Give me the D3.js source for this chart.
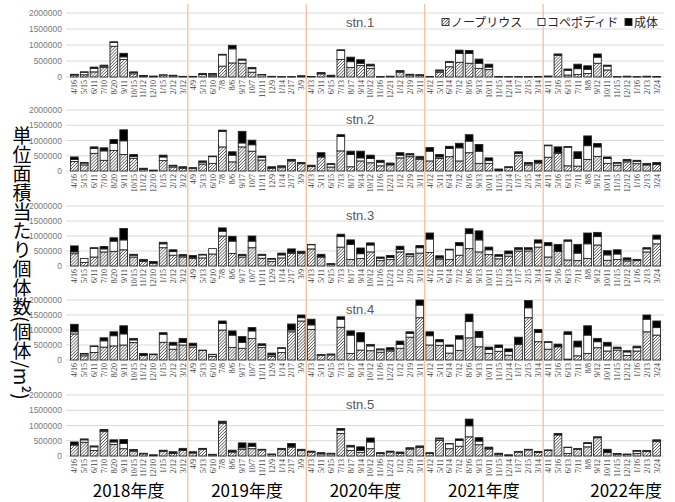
<!DOCTYPE html>
<html>
<head>
<meta charset="utf-8">
<script src="https://d3js.org/d3.v7.min.js"></script>
<style>
body { margin:0; background:#fff; }
text { font-family: "Noto Sans CJK JP", "Noto Sans", sans-serif; }
</style>
</head>
<body>
<svg id="chart" width="675" height="502"></svg>
<script>
// sampling dates (same for every station)
var dates = ["4/16","5/15","6/11","7/10","8/20","9/11","10/15","11/12","12/10","1/15","2/12","3/12",
  "4/9","5/13","6/10","7/8","8/6","9/17","10/7","11/11","12/9","1/14","2/17","3/9",
  "4/13","5/11","6/15","7/13","8/17","9/14","10/12","11/16","12/21","1/12","2/19","3/11",
  "4/12","5/11","6/14","7/12","8/16","9/13","10/11","11/15","12/14","1/17","2/15","3/14",
  "4/11","5/16","6/13","7/11","8/8","9/12","10/11","11/15","12/12","1/16","2/13","3/24"];
var years = ["2018年度","2019年度","2020年度","2021年度","2022年度"];
var stations = ["stn.1","stn.2","stn.3","stn.4","stn.5"];
var seriesNames = ["ノープリウス","コペポディド","成体"];
var yTicks = [0, 500000, 1000000, 1500000, 2000000];

// ノープリウス / コペポディド / 成体 per station
var stn1_N = [60000,70000,160000,300000,960000,550000,100000,30000,10000,60000,40000,10000,
  10000,80000,40000,340000,440000,430000,150000,70000,10000,5000,5000,10000,
  10000,100000,15000,550000,300000,360000,270000,5000,10000,150000,60000,50000,
  10000,150000,320000,460000,430000,270000,230000,5000,5000,5000,5000,5000,
  20000,680000,60000,80000,110000,430000,220000,5000,10000,5000,10000,5000];
var stn1_C = [15000,80000,110000,40000,120000,80000,40000,0,5000,10000,0,5000,
  5000,10000,50000,350000,440000,100000,110000,0,0,0,0,0,
  0,10000,0,280000,180000,70000,80000,0,0,20000,15000,10000,
  0,40000,140000,280000,310000,160000,80000,0,0,0,0,0,
  0,0,150000,180000,130000,190000,120000,0,0,0,0,0];
var stn1_A = [10000,10000,40000,30000,20000,110000,20000,20000,15000,0,15000,5000,
  5000,20000,20000,20000,110000,30000,40000,10000,10000,5000,5000,30000,
  5000,30000,40000,20000,140000,110000,50000,10000,15000,30000,10000,10000,
  5000,30000,20000,100000,90000,130000,90000,10000,5000,5000,5000,10000,
  10000,40000,40000,140000,110000,100000,30000,5000,15000,5000,15000,10000];

var stn2_N = [310000,200000,580000,350000,670000,540000,410000,50000,10000,340000,130000,90000,
  90000,230000,250000,790000,300000,790000,650000,360000,90000,110000,330000,240000,
  150000,460000,130000,660000,140000,330000,270000,170000,200000,430000,470000,380000,
  330000,410000,470000,330000,600000,250000,250000,30000,120000,500000,200000,260000,
  450000,580000,170000,160000,380000,480000,250000,190000,300000,240000,200000,210000];
var stn2_C = [70000,60000,160000,310000,230000,450000,60000,20000,0,120000,40000,20000,
  0,60000,220000,510000,220000,130000,210000,80000,10000,40000,20000,0,
  0,10000,90000,470000,400000,100000,140000,120000,20000,90000,60000,40000,
  320000,50000,270000,430000,380000,400000,90000,0,0,70000,40000,20000,
  380000,30000,610000,250000,450000,310000,160000,70000,40000,80000,0,20000];
var stn2_A = [80000,20000,50000,100000,130000,360000,70000,20000,20000,60000,20000,30000,
  20000,40000,20000,40000,110000,380000,150000,50000,40000,20000,30000,40000,
  40000,130000,20000,60000,110000,220000,110000,60000,40000,80000,40000,50000,
  120000,80000,70000,150000,210000,220000,90000,35000,20000,60000,40000,70000,
  20000,180000,20000,220000,320000,110000,50000,20000,40000,30000,50000,50000];

var stn3_N = [410000,120000,300000,470000,490000,540000,300000,150000,90000,610000,360000,300000,
  250000,270000,400000,1000000,420000,300000,610000,260000,150000,270000,420000,420000,
  570000,300000,60000,630000,220000,250000,470000,180000,220000,470000,330000,430000,
  450000,230000,220000,360000,580000,470000,380000,240000,330000,500000,500000,630000,
  300000,490000,200000,180000,250000,700000,190000,220000,170000,180000,470000,740000];
var stn3_C = [60000,130000,290000,100000,340000,330000,60000,30000,10000,130000,120000,40000,
  40000,100000,180000,160000,410000,50000,220000,100000,80000,100000,30000,20000,
  140000,10000,0,350000,500000,160000,230000,80000,70000,80000,60000,180000,
  450000,40000,320000,320000,500000,400000,160000,90000,80000,60000,60000,140000,
  380000,0,630000,250000,490000,280000,180000,180000,40000,20000,100000,160000];
var stn3_A = [200000,0,20000,80000,110000,380000,30000,40000,50000,50000,60000,40000,
  60000,20000,0,110000,160000,40000,170000,30000,20000,60000,120000,50000,
  10000,80000,20000,80000,150000,190000,70000,40000,60000,110000,20000,70000,
  200000,70000,20000,100000,160000,300000,90000,50000,90000,50000,50000,100000,
  100000,230000,40000,290000,360000,140000,140000,140000,60000,20000,40000,130000];

var stn4_N = [870000,140000,250000,430000,470000,500000,580000,150000,180000,590000,360000,500000,
  430000,320000,120000,1000000,420000,390000,720000,420000,120000,250000,940000,1300000,
  1020000,160000,170000,1090000,220000,330000,310000,260000,300000,390000,760000,1410000,
  500000,490000,230000,320000,740000,440000,220000,290000,160000,520000,1410000,610000,
  360000,440000,30000,140000,220000,410000,300000,330000,150000,300000,940000,830000];
var stn4_C = [70000,60000,200000,210000,340000,370000,90000,0,0,270000,140000,90000,
  50000,0,60000,220000,410000,200000,250000,70000,50000,140000,60000,110000,
  150000,10000,0,270000,610000,280000,160000,80000,40000,130000,130000,420000,
  310000,120000,230000,380000,540000,320000,130000,130000,120000,10000,330000,310000,
  230000,10000,830000,300000,610000,200000,170000,60000,120000,110000,420000,250000];
var stn4_A = [250000,20000,20000,100000,130000,270000,50000,70000,20000,50000,90000,130000,
  80000,10000,10000,80000,140000,190000,110000,50000,60000,20000,200000,90000,
  190000,10000,30000,80000,140000,300000,50000,30000,70000,110000,50000,170000,
  130000,70000,40000,110000,250000,190000,80000,80000,90000,230000,240000,100000,
  20000,80000,80000,190000,310000,110000,120000,40000,40000,50000,140000,220000];

var stn5_N = [360000,450000,180000,800000,380000,240000,160000,70000,20000,150000,80000,190000,
  100000,220000,40000,1070000,130000,220000,240000,200000,55000,220000,290000,180000,
  130000,70000,70000,740000,180000,120000,240000,80000,130000,90000,230000,280000,
  80000,510000,240000,320000,630000,370000,230000,60000,20000,130000,200000,120000,
  180000,690000,80000,220000,300000,600000,120000,60000,50000,80000,150000,480000];
var stn5_C = [10000,80000,120000,40000,80000,170000,30000,0,0,20000,20000,0,
  0,10000,0,30000,20000,50000,80000,0,0,0,10000,0,
  0,0,0,110000,120000,60000,220000,10000,0,0,20000,20000,
  0,50000,160000,190000,360000,120000,20000,0,0,0,0,0,
  0,0,200000,10000,110000,10000,0,10000,0,80000,10000,20000];
var stn5_A = [90000,30000,30000,30000,70000,130000,20000,20000,20000,20000,40000,60000,
  40000,20000,15000,40000,40000,160000,100000,20000,10000,30000,110000,40000,
  30000,40000,20000,50000,50000,120000,130000,20000,30000,40000,20000,30000,
  30000,30000,10000,50000,220000,110000,40000,30000,20000,20000,20000,30000,
  20000,50000,10000,10000,30000,20000,100000,10000,15000,20000,20000,30000];

var stationData = [
  [stn1_N, stn1_C, stn1_A],
  [stn2_N, stn2_C, stn2_A],
  [stn3_N, stn3_C, stn3_A],
  [stn4_N, stn4_C, stn4_A],
  [stn5_N, stn5_C, stn5_A]
];

var svg = d3.select("#chart");

// hatch pattern for nauplius
var defs = svg.append("defs");
defs.append("pattern")
  .attr("id", "hatch")
  .attr("patternUnits", "userSpaceOnUse")
  .attr("width", 2.2).attr("height", 2.2)
  .attr("patternTransform", "rotate(45)")
  .call(function(p) {
    p.append("rect").attr("width", 2.2).attr("height", 2.2).attr("fill", "#fff");
    p.append("line").attr("x1", 0).attr("y1", 0).attr("x2", 0).attr("y2", 2.2)
      .attr("stroke", "#333").attr("stroke-width", 1.2);
  });

var fills = ["url(#hatch)", "#ffffff", "#000000"];

var x = d3.scaleBand()
  .domain(d3.range(dates.length))
  .range([69.5, 661.5])
  .paddingInner(0.22)
  .paddingOuter(0.1);

// panel layout (top = 2000000 line, bottom = 0 line)
var panelTop = [13, 110, 206, 300, 395];
var panelBottom = [77, 171, 266, 360, 456];

stationData.forEach(function(series, p) {
  var y = d3.scaleLinear().domain([0, 2000000]).range([panelBottom[p], panelTop[p]]);
  var g = svg.append("g");

  // grid lines
  g.selectAll("line.grid").data(yTicks).join("line")
    .attr("x1", 66).attr("x2", 664)
    .attr("y1", function(d) { return y(d); }).attr("y2", function(d) { return y(d); })
    .attr("stroke", "#d9d9d9").attr("stroke-width", 1);

  // y axis labels
  var ax = g.append("g")
    .attr("transform", "translate(64,0)")
    .call(d3.axisLeft(y).tickValues(yTicks).tickSize(0).tickPadding(2).tickFormat(d3.format("d")));
  ax.select(".domain").remove();
  ax.selectAll("text").attr("fill", "#7a7a7a").style("font-size", "8.5px")
    .style("font-family", "'Liberation Sans', Arial, sans-serif");

  // station title
  g.append("text")
    .attr("x", 346).attr("y", panelTop[p] + 14)
    .attr("fill", "#595959").style("font-size", "13px")
    .style("font-family", "'Liberation Sans', Arial, sans-serif")
    .text(stations[p]);

  // stacked bars
  var rows = dates.map(function(d, i) {
    return { i: i, N: series[0][i], C: series[1][i], A: series[2][i] };
  });
  var stacked = d3.stack().keys(["N", "C", "A"])(rows);

  g.selectAll("g.layer").data(stacked).join("g")
    .attr("fill", function(d, k) { return fills[k]; })
    .selectAll("rect").data(function(d) { return d; }).join("rect")
      .attr("x", function(d) { return x(d.data.i); })
      .attr("width", x.bandwidth())
      .attr("y", function(d) { return y(d[1]); })
      .attr("height", function(d) { return Math.max(0, y(d[0]) - y(d[1])); })
      .attr("stroke", "#262626").attr("stroke-width", 0.9);

  // date labels
  g.selectAll("text.date").data(dates).join("text")
    .attr("class", "date")
    .attr("transform", function(d, i) {
      return "translate(" + (x(i) + x.bandwidth() / 2 + 3) + "," + (panelBottom[p] + 3) + ") rotate(-90)";
    })
    .attr("text-anchor", "end")
    .attr("fill", "#404040")
    .style("font-size", "8px")
    .style("font-family", "'Liberation Serif', 'DejaVu Serif', serif")
    .text(function(d) { return d; });
});

// year dividers
var step = x.step();
var bounds = [12, 24, 36, 48].map(function(i) { return x(i) - (step - x.bandwidth()) / 2; });
svg.selectAll("line.divider").data(bounds).join("line")
  .attr("x1", function(d) { return d; }).attr("x2", function(d) { return d; })
  .attr("y1", 4).attr("y2", 502)
  .attr("stroke", "#f6c3a0").attr("stroke-width", 1.4);

// year labels
svg.selectAll("text.year").data(years).join("text")
  .attr("x", function(d, k) {
    if (k === years.length - 1) return 662;
    return (x(12 * k) + x(12 * k + 11) + x.bandwidth()) / 2;
  })
  .attr("y", 497)
  .attr("text-anchor", function(d, k) { return k === years.length - 1 ? "end" : "middle"; })
  .attr("fill", "#000")
  .style("font-size", "17px")
  .text(function(d) { return d; });

// legend
var legendX = [442, 538, 625];
var lg = svg.append("g");
seriesNames.forEach(function(name, k) {
  lg.append("rect")
    .attr("x", legendX[k]).attr("y", 18.5).attr("width", 7).attr("height", 7)
    .attr("fill", fills[k]).attr("stroke", "#262626").attr("stroke-width", 0.9);
  lg.append("text")
    .attr("x", legendX[k] + 9).attr("y", 27)
    .attr("fill", "#262626").style("font-size", "12px")
    .text(name);
});

// y title (vertical)
svg.append("text")
  .attr("x", 22).attr("y", 126)
  .style("writing-mode", "vertical-rl")
  .style("font-size", "19px")
  .attr("fill", "#000")
  .text("単位面積当たり個体数(個体/m²)");
</script>
</body>
</html>
